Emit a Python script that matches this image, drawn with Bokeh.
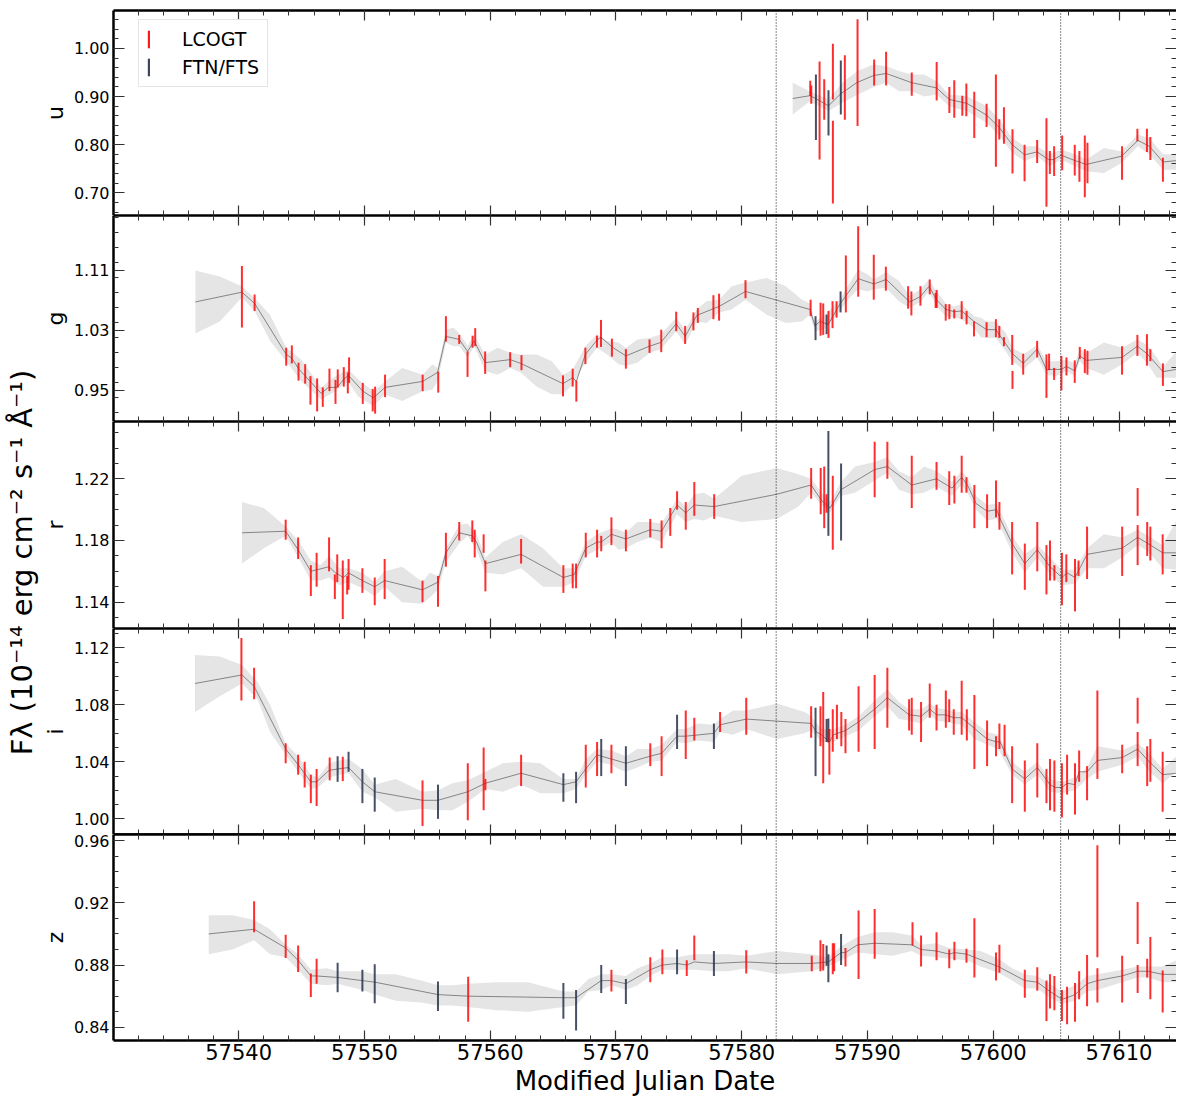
import math
import numpy as np
from bokeh.plotting import figure
from bokeh.layouts import column, row
from bokeh.models import (Range1d, LinearAxis, SingleIntervalTicker, FixedTicker,
                          PrintfTickFormatter, Span, Legend, LegendItem, Label)
from bokeh.embed import file_html
from bokeh.resources import INLINE

FONT = "DejaVu Sans"

# ---------------- u band ----------------
u_gp_mjd = [57584.05, 57585.45, 57586.90, 57587.88, 57589.15, 57590.50, 57591.50, 57593.50, 57595.50,
            57596.50, 57597.90, 57599.50, 57600.50, 57601.50, 57602.50, 57603.50, 57604.40, 57604.80,
            57605.40, 57606.50, 57607.40, 57610.20, 57611.50, 57612.40, 57613.50, 57614.57]
u_gp_flux = [0.896, 0.902, 0.881, 0.906, 0.929, 0.944, 0.948, 0.929, 0.918,
             0.894, 0.886, 0.861, 0.835, 0.800, 0.779, 0.785, 0.769, 0.769,
             0.778, 0.767, 0.759, 0.776, 0.809, 0.797, 0.764, 0.767]
u_band_mjd = [57584.05, 57585.4, 57586.9, 57588.0, 57589.2, 57590.5, 57591.5, 57592.5, 57593.5, 57594.5,
              57595.5, 57596.5, 57597.9, 57599.5, 57600.5, 57601.5, 57602.5, 57603.5, 57604.5, 57605.4,
              57606.5, 57607.4, 57608.8, 57610.2, 57611.5, 57612.4, 57613.5, 57614.57]
u_band_hi = [0.929, 0.911, 0.894, 0.929, 0.953, 0.967, 0.963, 0.953, 0.946, 0.946,
             0.932, 0.904, 0.901, 0.880, 0.852, 0.814, 0.797, 0.797, 0.780, 0.790,
             0.780, 0.769, 0.793, 0.786, 0.821, 0.814, 0.780, 0.780]
u_band_lo = [0.863, 0.890, 0.870, 0.887, 0.904, 0.920, 0.929, 0.911, 0.911, 0.900,
             0.904, 0.880, 0.870, 0.845, 0.818, 0.783, 0.766, 0.776, 0.755, 0.769,
             0.755, 0.745, 0.741, 0.762, 0.797, 0.780, 0.748, 0.748]
u_lco_mjd = [57585.45, 57585.53, 57586.19, 57586.56, 57587.25, 57587.25, 57588.20, 57589.21, 57590.53,
             57591.48, 57593.52, 57595.50, 57596.51, 57596.90, 57597.54, 57597.86, 57598.49, 57599.47,
             57600.21, 57600.48, 57600.85, 57601.53, 57602.49, 57603.49, 57604.23, 57604.50, 57604.84,
             57605.48, 57606.48, 57606.85, 57607.28, 57607.49, 57610.24, 57611.46, 57612.22, 57612.49,
             57613.49]
u_lco_flux = [0.917, 0.904, 0.871, 0.894, 0.952, 0.764, 0.919, 0.950, 0.950,
              0.958, 0.926, 0.932, 0.893, 0.895, 0.881, 0.893, 0.862, 0.861,
              0.850, 0.832, 0.840, 0.786, 0.762, 0.786, 0.763, 0.763, 0.766,
              0.783, 0.768, 0.755, 0.755, 0.762, 0.762, 0.820, 0.809, 0.792,
              0.748]
u_lco_err = [0.016, 0.019, 0.102, 0.042, 0.058, 0.086, 0.067, 0.111, 0.027,
             0.035, 0.024, 0.040, 0.027, 0.039, 0.021, 0.034, 0.048, 0.024,
             0.096, 0.021, 0.038, 0.046, 0.038, 0.024, 0.092, 0.024, 0.031,
             0.036, 0.032, 0.032, 0.064, 0.042, 0.035, 0.013, 0.024, 0.024,
             0.025]
u_ftn_mjd = [57585.90, 57586.90, 57587.88]
u_ftn_flux = [0.878, 0.866, 0.919]
u_ftn_err = [0.068, 0.047, 0.056]

# ---------------- g band ----------------
g_gp_mjd = [57536.56, 57540.26, 57541.27, 57543.78, 57544.23, 57544.76, 57546.56, 57547.14, 57547.83, 57548.36,
            57548.73, 57549.87, 57550.71, 57551.64, 57554.63, 57555.82, 57556.48, 57557.54, 57558.20, 57558.73,
            57559.60, 57561.59, 57562.43, 57565.79, 57566.56, 57566.85, 57567.57, 57568.49, 57568.81, 57569.68,
            57570.79, 57572.67, 57573.57, 57574.79, 57575.50, 57576.43, 57577.75, 57578.20, 57580.30, 57585.42,
            57585.82, 57586.22, 57586.88, 57587.80, 57589.27, 57590.51, 57591.50, 57593.35, 57594.20, 57594.90,
            57595.48, 57596.22, 57596.90, 57597.49, 57598.47, 57599.47, 57600.21, 57601.53, 57602.38, 57603.49,
            57604.23, 57605.42, 57605.82, 57606.48, 57606.88, 57607.41, 57610.24, 57611.46, 57612.22, 57613.49,
            57614.57]
g_gp_flux = [1.068, 1.081, 1.066, 0.998, 0.993, 0.979, 0.946, 0.954, 0.954, 0.965,
             0.970, 0.949, 0.940, 0.954, 0.962, 0.974, 1.022, 1.018, 1.002, 1.016,
             0.987, 0.991, 0.986, 0.959, 0.967, 0.962, 0.998, 1.017, 1.021, 1.008,
             0.996, 1.009, 1.014, 1.039, 1.022, 1.050, 1.059, 1.062, 1.082, 1.058,
             1.036, 1.042, 1.038, 1.065, 1.099, 1.092, 1.098, 1.068, 1.075, 1.089,
             1.071, 1.058, 1.055, 1.056, 1.042, 1.031, 1.031, 0.999, 0.986, 1.005,
             0.978, 0.978, 0.982, 0.976, 0.996, 0.990, 0.994, 1.009, 0.999, 0.975,
             0.978]
g_band_mjd = [57536.56, 57538.5, 57540.26, 57541.27, 57542.5, 57543.78, 57545.0, 57546.56, 57547.5, 57548.7,
              57549.5, 57550.71, 57551.64, 57553.0, 57554.63, 57555.4, 57555.82, 57556.48, 57557.1, 57557.54,
              57558.2, 57558.73, 57559.6, 57560.6, 57561.59, 57562.43, 57563.7, 57564.9, 57565.79, 57566.56,
              57567.57, 57568.49, 57569.3, 57570.2, 57570.79, 57571.7, 57572.67, 57573.57, 57574.79, 57575.5,
              57576.43, 57577.2, 57578.2, 57579.2, 57580.3, 57582.0, 57583.5, 57584.8, 57585.42, 57585.82,
              57586.5, 57587.8, 57588.6, 57589.26, 57590.0, 57590.5, 57591.46, 57592.5, 57593.36, 57594.21,
              57594.89, 57595.5, 57596.22, 57596.9, 57597.49, 57598.47, 57599.0, 57599.47, 57600.21, 57601.0,
              57601.53, 57602.38, 57603.0, 57603.49, 57604.23, 57605.0, 57605.82, 57606.48, 57606.88, 57607.41,
              57608.8, 57610.24, 57611.46, 57612.22, 57613.0, 57613.49, 57614.57]
g_band_hi = [1.110, 1.102, 1.089, 1.073, 1.051, 1.007, 0.991, 0.954, 0.967, 0.978,
             0.965, 0.949, 0.962, 0.980, 0.971, 0.985, 0.980, 1.031, 1.034, 1.026,
             1.010, 1.024, 0.998, 1.007, 1.000, 0.998, 0.998, 0.989, 0.971, 0.978,
             1.009, 1.025, 1.016, 1.014, 1.007, 1.018, 1.020, 1.025, 1.047, 1.031,
             1.058, 1.069, 1.071, 1.089, 1.094, 1.100, 1.089, 1.071, 1.066, 1.042,
             1.049, 1.071, 1.094, 1.111, 1.105, 1.098, 1.108, 1.096, 1.076, 1.085,
             1.098, 1.082, 1.066, 1.062, 1.065, 1.049, 1.047, 1.042, 1.042, 1.027,
             1.007, 0.998, 1.005, 1.011, 0.989, 0.989, 0.991, 0.986, 1.005, 1.000,
             1.014, 1.007, 1.018, 1.011, 0.994, 0.982, 1.002]
g_band_lo = [1.026, 1.042, 1.074, 1.056, 1.016, 0.989, 0.962, 0.938, 0.947, 0.962,
             0.942, 0.929, 0.945, 0.936, 0.949, 0.951, 0.962, 1.014, 1.009, 1.009,
             0.994, 1.009, 0.976, 0.971, 0.980, 0.974, 0.955, 0.945, 0.945, 0.958,
             0.987, 1.007, 0.998, 0.985, 0.983, 0.987, 1.000, 1.005, 1.029, 1.011,
             1.042, 1.040, 1.054, 1.058, 1.071, 1.051, 1.040, 1.042, 1.051, 1.029,
             1.031, 1.056, 1.074, 1.085, 1.082, 1.085, 1.087, 1.069, 1.060, 1.068,
             1.082, 1.062, 1.049, 1.047, 1.045, 1.034, 1.021, 1.020, 1.020, 1.002,
             0.989, 0.978, 0.987, 0.994, 0.971, 0.969, 0.976, 0.969, 0.989, 0.980,
             0.971, 0.985, 1.000, 0.987, 0.967, 0.967, 0.967]
g_lco_mjd = [57540.26, 57541.27, 57543.78, 57544.23, 57544.76, 57545.29, 57545.71, 57546.24, 57546.69, 57547.22,
             57547.70, 57547.88, 57548.36, 57548.68, 57548.78, 57549.87, 57550.66, 57550.85, 57551.64, 57554.63,
             57555.87, 57556.48, 57557.54, 57558.20, 57558.60, 57558.81, 57559.60, 57561.59, 57562.49, 57565.79,
             57566.56, 57566.85, 57567.57, 57568.49, 57568.81, 57569.68, 57570.79, 57572.67, 57573.60, 57574.79,
             57575.50, 57576.16, 57576.51, 57577.75, 57578.20, 57580.30, 57585.48, 57586.27, 57586.48, 57586.90,
             57587.22, 57587.54, 57588.28, 57589.26, 57590.50, 57591.46, 57593.23, 57593.49, 57594.21, 57594.95,
             57595.42, 57595.50, 57596.22, 57596.51, 57596.90, 57597.49, 57597.88, 57598.47, 57599.47, 57600.21,
             57600.48, 57600.85, 57601.51, 57601.53, 57602.38, 57603.49, 57604.23, 57604.44, 57604.84, 57605.42,
             57605.82, 57606.48, 57606.88, 57607.28, 57607.49, 57610.24, 57611.46, 57612.22, 57612.49, 57613.49]
g_lco_flux = [1.075, 1.067, 0.995, 0.998, 0.975, 0.972, 0.950, 0.944, 0.941, 0.964,
              0.948, 0.966, 0.968, 0.960, 0.977, 0.946, 0.937, 0.937, 0.956, 0.960,
              0.961, 1.032, 1.018, 0.985, 1.015, 1.021, 0.987, 0.991, 0.987, 0.956,
              0.967, 0.949, 0.996, 1.015, 1.026, 1.007, 0.992, 1.009, 1.016, 1.042,
              1.024, 1.042, 1.050, 1.061, 1.061, 1.085, 1.060, 1.045, 1.045, 1.038,
              1.051, 1.058, 1.092, 1.122, 1.101, 1.099, 1.074, 1.066, 1.076, 1.088,
              1.070, 1.072, 1.054, 1.055, 1.052, 1.057, 1.047, 1.032, 1.031, 1.033,
              1.028, 1.015, 1.004, 0.964, 0.985, 1.005, 0.969, 0.988, 0.972, 0.973,
              0.982, 0.975, 1.000, 0.989, 0.987, 0.990, 1.010, 1.004, 0.997, 0.971]
g_lco_err = [0.041, 0.011, 0.012, 0.012, 0.012, 0.013, 0.019, 0.022, 0.013, 0.015,
             0.016, 0.012, 0.013, 0.014, 0.017, 0.014, 0.015, 0.018, 0.015, 0.011,
             0.014, 0.017, 0.006, 0.017, 0.008, 0.012, 0.015, 0.010, 0.010, 0.014,
             0.012, 0.014, 0.011, 0.008, 0.018, 0.012, 0.013, 0.009, 0.015, 0.013,
             0.012, 0.012, 0.010, 0.016, 0.018, 0.012, 0.011, 0.022, 0.021, 0.018,
             0.018, 0.011, 0.038, 0.047, 0.030, 0.016, 0.015, 0.016, 0.013, 0.010,
             0.010, 0.012, 0.011, 0.010, 0.006, 0.012, 0.009, 0.010, 0.010, 0.012,
             0.008, 0.006, 0.020, 0.012, 0.014, 0.011, 0.029, 0.011, 0.008, 0.023,
             0.012, 0.015, 0.008, 0.016, 0.016, 0.019, 0.014, 0.021, 0.008, 0.015]
g_ftn_mjd = [57585.87, 57586.75, 57587.86]
g_ftn_flux = [1.033, 1.038, 1.068]
g_ftn_err = [0.016, 0.013, 0.014]

# ---------------- r band ----------------
r_gp_mjd = [57540.27, 57543.74, 57544.73, 57545.74, 57546.23, 57547.19, 57547.70, 57548.33, 57548.74, 57549.84,
            57550.82, 57551.61, 57554.62, 57555.85, 57556.48, 57557.54, 57558.58, 57558.91, 57559.62, 57562.46,
            57565.82, 57566.69, 57567.60, 57568.50, 57568.83, 57569.64, 57570.79, 57572.73, 57573.63, 57574.86,
            57575.55, 57576.23, 57577.81, 57582.79, 57585.52, 57586.34, 57587.02, 57587.90, 57590.57, 57591.58,
            57593.52, 57595.49, 57596.72, 57597.49, 57597.95, 57598.63, 57599.51, 57600.27, 57600.55, 57601.50,
            57602.51, 57603.50, 57604.51, 57605.46, 57605.87, 57606.50, 57607.46, 57610.25, 57611.48, 57612.30,
            57613.47, 57614.57]
r_gp_flux = [1.185, 1.186, 1.174, 1.160, 1.161, 1.163, 1.159, 1.156, 1.159, 1.154,
             1.150, 1.154, 1.148, 1.153, 1.172, 1.185, 1.183, 1.179, 1.165, 1.171,
             1.156, 1.158, 1.175, 1.179, 1.179, 1.184, 1.181, 1.187, 1.186, 1.203,
             1.198, 1.203, 1.202, 1.210, 1.216, 1.206, 1.201, 1.213, 1.226, 1.228,
             1.216, 1.220, 1.214, 1.221, 1.216, 1.204, 1.199, 1.200, 1.194, 1.178,
             1.165, 1.174, 1.163, 1.156, 1.159, 1.156, 1.171, 1.175, 1.182, 1.178,
             1.172, 1.172]
r_band_mjd = [57540.27, 57542.0, 57543.74, 57544.73, 57545.74, 57546.5, 57547.19, 57548.0, 57548.74, 57549.84,
              57550.82, 57551.61, 57553.0, 57554.62, 57555.2, 57555.85, 57556.48, 57557.54, 57558.2, 57558.91,
              57559.62, 57561.0, 57562.46, 57564.2, 57565.82, 57566.69, 57567.6, 57568.5, 57569.64, 57570.2,
              57570.79, 57571.7, 57572.73, 57573.63, 57574.86, 57575.55, 57576.23, 57577.0, 57577.81, 57580.0,
              57582.79, 57584.5, 57585.52, 57586.34, 57587.02, 57587.9, 57589.0, 57590.57, 57591.58, 57592.5,
              57593.52, 57594.5, 57595.49, 57596.72, 57597.49, 57597.95, 57598.63, 57599.51, 57600.27, 57600.55,
              57601.5, 57602.51, 57603.5, 57604.51, 57605.46, 57606.5, 57607.46, 57608.8, 57610.25, 57611.48,
              57612.3, 57613.47, 57614.57]
r_band_hi = [1.205, 1.201, 1.189, 1.180, 1.167, 1.164, 1.170, 1.162, 1.162, 1.159,
             1.153, 1.160, 1.163, 1.153, 1.159, 1.157, 1.175, 1.190, 1.191, 1.184,
             1.169, 1.179, 1.184, 1.175, 1.162, 1.162, 1.179, 1.184, 1.188, 1.187,
             1.185, 1.192, 1.192, 1.191, 1.207, 1.202, 1.210, 1.211, 1.207, 1.222,
             1.227, 1.223, 1.220, 1.211, 1.205, 1.218, 1.228, 1.231, 1.234, 1.225,
             1.221, 1.228, 1.225, 1.218, 1.225, 1.221, 1.209, 1.203, 1.204, 1.199,
             1.183, 1.171, 1.177, 1.169, 1.161, 1.161, 1.175, 1.184, 1.182, 1.187,
             1.183, 1.177, 1.193]
r_band_lo = [1.165, 1.175, 1.183, 1.169, 1.154, 1.154, 1.156, 1.151, 1.153, 1.149,
             1.144, 1.150, 1.140, 1.139, 1.143, 1.148, 1.166, 1.178, 1.183, 1.174,
             1.159, 1.158, 1.162, 1.150, 1.150, 1.153, 1.170, 1.174, 1.179, 1.174,
             1.175, 1.179, 1.182, 1.179, 1.197, 1.192, 1.194, 1.193, 1.196, 1.192,
             1.194, 1.202, 1.211, 1.203, 1.198, 1.209, 1.211, 1.219, 1.224, 1.213,
             1.210, 1.211, 1.215, 1.209, 1.216, 1.211, 1.200, 1.193, 1.194, 1.189,
             1.172, 1.159, 1.169, 1.158, 1.151, 1.152, 1.162, 1.162, 1.169, 1.177,
             1.173, 1.162, 1.161]
r_lco_mjd = [57543.74, 57544.73, 57545.74, 57546.20, 57547.19, 57547.65, 57547.84, 57548.28, 57548.63, 57548.74,
             57549.84, 57550.82, 57551.61, 57554.62, 57555.85, 57556.48, 57557.54, 57558.58, 57558.77, 57559.48,
             57559.62, 57562.46, 57565.82, 57566.56, 57566.83, 57567.60, 57568.50, 57568.83, 57569.64, 57570.79,
             57572.73, 57573.63, 57574.32, 57574.86, 57575.55, 57576.23, 57577.81, 57585.52, 57586.28, 57586.56,
             57586.75, 57587.24, 57590.57, 57591.58, 57593.52, 57595.49, 57596.50, 57596.91, 57597.49, 57597.87,
             57598.50, 57599.51, 57600.22, 57600.49, 57601.50, 57602.51, 57603.50, 57604.23, 57604.51, 57604.86,
             57605.46, 57605.81, 57606.50, 57606.78, 57607.46, 57610.25, 57611.48, 57611.48, 57612.24, 57612.49,
             57613.47]
r_lco_flux = [1.187, 1.175, 1.154, 1.161, 1.171, 1.150, 1.162, 1.148, 1.151, 1.158,
              1.154, 1.147, 1.155, 1.147, 1.147, 1.174, 1.186, 1.186, 1.178, 1.178,
              1.157, 1.173, 1.155, 1.157, 1.157, 1.177, 1.178, 1.178, 1.186, 1.180,
              1.188, 1.184, 1.192, 1.206, 1.196, 1.207, 1.202, 1.217, 1.212, 1.208,
              1.204, 1.198, 1.226, 1.232, 1.218, 1.222, 1.214, 1.213, 1.223, 1.216,
              1.202, 1.199, 1.207, 1.196, 1.175, 1.163, 1.176, 1.161, 1.167, 1.159,
              1.155, 1.162, 1.151, 1.162, 1.172, 1.173, 1.205, 1.177, 1.181, 1.178,
              1.171]
r_lco_err = [0.0065, 0.007, 0.010, 0.011, 0.011, 0.008, 0.009, 0.019, 0.006, 0.010,
             0.008, 0.009, 0.013, 0.007, 0.010, 0.011, 0.006, 0.007, 0.009, 0.006,
             0.010, 0.008, 0.009, 0.008, 0.008, 0.008, 0.009, 0.005, 0.009, 0.007,
             0.006, 0.009, 0.009, 0.006, 0.009, 0.011, 0.008, 0.010, 0.015, 0.020,
             0.006, 0.024, 0.018, 0.012, 0.017, 0.009, 0.011, 0.009, 0.012, 0.005,
             0.014, 0.011, 0.012, 0.009, 0.017, 0.015, 0.016, 0.016, 0.013, 0.005,
             0.017, 0.009, 0.017, 0.005, 0.017, 0.016, 0.009, 0.013, 0.011, 0.011,
             0.013]
r_ftn_mjd = [57586.89, 57587.90]
r_ftn_flux = [1.217, 1.205]
r_ftn_err = [0.034, 0.025]

# ---------------- i band ----------------
i_gp_mjd = [57536.53, 57540.27, 57541.23, 57543.74, 57544.73, 57545.74, 57546.20, 57547.19, 57547.87, 57548.74,
            57549.84, 57550.82, 57554.62, 57555.85, 57558.22, 57559.62, 57562.46, 57565.82, 57566.83, 57567.60,
            57568.50, 57568.83, 57569.64, 57570.79, 57572.73, 57573.63, 57574.86, 57575.55, 57577.79, 57578.28,
            57580.36, 57585.52, 57585.93, 57586.34, 57586.97, 57587.30, 57588.25, 57589.29, 57590.57, 57591.58,
            57593.31, 57594.26, 57594.95, 57595.49, 57596.17, 57596.86, 57597.49, 57597.90, 57599.51, 57600.27,
            57600.55, 57601.50, 57602.51, 57603.50, 57604.51, 57604.92, 57605.46, 57605.87, 57606.50, 57606.83,
            57607.46, 57608.28, 57610.25, 57611.48, 57612.30, 57613.47, 57614.57]
i_gp_flux = [1.095, 1.101, 1.093, 1.049, 1.038, 1.026, 1.026, 1.034, 1.035, 1.036,
             1.026, 1.019, 1.013, 1.013, 1.019, 1.025, 1.032, 1.024, 1.026, 1.035,
             1.045, 1.044, 1.042, 1.039, 1.044, 1.046, 1.058, 1.058, 1.060, 1.066,
             1.070, 1.067, 1.061, 1.059, 1.054, 1.059, 1.062, 1.068, 1.077, 1.085,
             1.073, 1.072, 1.077, 1.073, 1.073, 1.071, 1.071, 1.068, 1.056, 1.054,
             1.054, 1.035, 1.028, 1.036, 1.024, 1.022, 1.022, 1.025, 1.024, 1.033,
             1.033, 1.041, 1.043, 1.049, 1.041, 1.031, 1.032]
i_band_mjd = [57536.53, 57538.5, 57540.27, 57541.5, 57542.5, 57543.74, 57544.73, 57545.74, 57546.3, 57547.19,
              57548.0, 57548.74, 57549.84, 57550.82, 57552.5, 57554.62, 57555.85, 57557.0, 57558.22, 57559.62,
              57561.0, 57562.46, 57564.0, 57565.82, 57566.83, 57567.6, 57568.5, 57569.64, 57570.2, 57570.79,
              57571.7, 57572.73, 57573.63, 57574.86, 57575.55, 57576.5, 57577.79, 57578.28, 57579.3, 57580.36,
              57582.8, 57585.0, 57585.52, 57586.34, 57587.3, 57588.25, 57589.29, 57590.57, 57591.58, 57592.5,
              57593.31, 57594.26, 57594.95, 57595.49, 57596.17, 57596.86, 57597.49, 57598.5, 57599.51, 57600.4,
              57601.5, 57602.51, 57603.5, 57604.51, 57605.46, 57606.5, 57607.46, 57608.28, 57610.25, 57611.48,
              57612.3, 57613.47, 57614.57]
i_band_hi = [1.115, 1.114, 1.108, 1.096, 1.080, 1.053, 1.044, 1.031, 1.029, 1.039,
             1.041, 1.042, 1.035, 1.024, 1.028, 1.019, 1.020, 1.025, 1.027, 1.033,
             1.039, 1.040, 1.039, 1.028, 1.028, 1.042, 1.049, 1.048, 1.046, 1.044,
             1.049, 1.049, 1.052, 1.063, 1.063, 1.067, 1.066, 1.070, 1.076, 1.076,
             1.081, 1.075, 1.072, 1.063, 1.063, 1.066, 1.072, 1.083, 1.091, 1.082,
             1.077, 1.077, 1.081, 1.078, 1.077, 1.075, 1.075, 1.068, 1.061, 1.059,
             1.040, 1.033, 1.040, 1.028, 1.026, 1.029, 1.036, 1.051, 1.048, 1.053,
             1.047, 1.035, 1.044]
i_band_lo = [1.075, 1.086, 1.095, 1.084, 1.061, 1.045, 1.033, 1.021, 1.022, 1.029,
             1.031, 1.032, 1.019, 1.015, 1.005, 1.007, 1.006, 1.006, 1.012, 1.021,
             1.019, 1.024, 1.018, 1.018, 1.021, 1.031, 1.040, 1.038, 1.035, 1.033,
             1.036, 1.040, 1.041, 1.054, 1.053, 1.055, 1.054, 1.061, 1.059, 1.063,
             1.056, 1.060, 1.062, 1.054, 1.054, 1.058, 1.062, 1.072, 1.079, 1.070,
             1.069, 1.067, 1.073, 1.069, 1.068, 1.067, 1.066, 1.056, 1.052, 1.049,
             1.031, 1.024, 1.031, 1.019, 1.018, 1.020, 1.028, 1.033, 1.038, 1.044,
             1.034, 1.025, 1.033]
i_lco_mjd = [57540.22, 57541.23, 57543.74, 57544.73, 57545.25, 57545.74, 57546.20, 57547.24, 57548.28, 57554.62,
             57558.22, 57559.48, 57559.62, 57562.46, 57567.60, 57568.50, 57569.64, 57572.73, 57573.63, 57575.55,
             57576.23, 57578.28, 57580.36, 57585.52, 57586.26, 57586.48, 57586.97, 57587.24, 57587.57, 57587.92,
             57588.25, 57589.29, 57590.57, 57591.58, 57593.31, 57593.52, 57594.26, 57594.95, 57595.49, 57596.23,
             57596.50, 57596.86, 57597.49, 57597.90, 57598.50, 57599.51, 57600.22, 57600.49, 57600.90, 57601.50,
             57602.51, 57603.50, 57604.23, 57604.51, 57604.86, 57605.46, 57605.87, 57606.50, 57606.83, 57607.46,
             57608.28, 57610.25, 57611.48, 57611.48, 57612.24, 57612.49, 57613.47]
i_lco_flux = [1.105, 1.095, 1.046, 1.038, 1.031, 1.021, 1.022, 1.035, 1.035, 1.011,
              1.019, 1.028, 1.024, 1.034, 1.037, 1.042, 1.042, 1.045, 1.044, 1.059,
              1.063, 1.068, 1.072, 1.068, 1.065, 1.057, 1.047, 1.062, 1.068, 1.063,
              1.058, 1.070, 1.075, 1.085, 1.073, 1.072, 1.068, 1.083, 1.071, 1.077,
              1.076, 1.068, 1.078, 1.066, 1.061, 1.053, 1.051, 1.058, 1.055, 1.031,
              1.023, 1.034, 1.023, 1.024, 1.023, 1.020, 1.031, 1.021, 1.037, 1.025,
              1.059, 1.042, 1.076, 1.049, 1.037, 1.041, 1.026]
i_lco_err = [0.022, 0.011, 0.007, 0.007, 0.009, 0.010, 0.013, 0.008, 0.0085, 0.016,
             0.020, 0.022, 0.004, 0.011, 0.015, 0.012, 0.010, 0.008, 0.014, 0.017,
             0.008, 0.007, 0.013, 0.011, 0.014, 0.032, 0.016, 0.015, 0.012, 0.012,
             0.012, 0.023, 0.026, 0.021, 0.011, 0.013, 0.014, 0.012, 0.009, 0.013,
             0.008, 0.009, 0.019, 0.011, 0.026, 0.016, 0.007, 0.009, 0.011, 0.020,
             0.018, 0.019, 0.012, 0.018, 0.018, 0.019, 0.014, 0.018, 0.011, 0.012,
             0.031, 0.010, 0.009, 0.012, 0.014, 0.015, 0.021]
i_ftn_mjd = [57547.87, 57548.74, 57549.84, 57550.82, 57555.85, 57565.82, 57566.83, 57568.83, 57570.79, 57574.86,
             57577.79, 57585.87, 57586.75, 57586.89]
i_ftn_flux = [1.035, 1.040, 1.023, 1.017, 1.012, 1.022, 1.022, 1.043, 1.037, 1.061,
              1.058, 1.054, 1.062, 1.062]
i_ftn_err = [0.009, 0.007, 0.012, 0.012, 0.012, 0.010, 0.011, 0.013, 0.014, 0.012,
             0.009, 0.024, 0.008, 0.0085]

# ---------------- z band ----------------
z_gp_mjd = [57537.62, 57541.23, 57543.74, 57544.73, 57545.74, 57546.20, 57547.87, 57549.84, 57550.82, 57555.85,
            57558.22, 57565.82, 57566.83, 57568.83, 57569.64, 57570.79, 57572.73, 57573.69, 57574.86, 57575.63,
            57576.23, 57577.79, 57580.36, 57582.79, 57585.52, 57586.89, 57587.90, 57588.25, 57589.21, 57590.57,
            57593.52, 57594.26, 57595.49, 57596.50, 57596.91, 57597.87, 57598.50, 57600.41, 57602.51, 57603.50,
            57604.51, 57605.46, 57605.87, 57606.50, 57607.46, 57608.28, 57610.25, 57611.48, 57612.30, 57613.47,
            57614.57]
z_gp_flux = [0.900, 0.903, 0.891, 0.883, 0.873, 0.873, 0.872, 0.870, 0.869, 0.861,
             0.860, 0.859, 0.859, 0.870, 0.870, 0.868, 0.877, 0.880, 0.881, 0.880,
             0.882, 0.881, 0.882, 0.881, 0.881, 0.882, 0.888, 0.888, 0.893, 0.894,
             0.893, 0.890, 0.889, 0.887, 0.888, 0.887, 0.885, 0.879, 0.870, 0.869,
             0.863, 0.858, 0.859, 0.861, 0.868, 0.870, 0.873, 0.876, 0.876, 0.874,
             0.874]
z_band_mjd = [57537.62, 57539.5, 57541.23, 57542.5, 57543.74, 57544.73, 57545.74, 57547.0, 57547.87, 57549.84,
              57550.82, 57552.5, 57554.5, 57555.85, 57557.0, 57558.22, 57560.5, 57563.0, 57565.82, 57566.83,
              57567.8, 57568.83, 57569.64, 57570.79, 57571.72, 57572.73, 57573.69, 57574.86, 57576.23, 57577.79,
              57579.0, 57580.36, 57582.8, 57585.52, 57586.89, 57587.9, 57589.21, 57590.57, 57592.0, 57593.52,
              57594.26, 57595.49, 57596.5, 57597.87, 57599.0, 57600.41, 57601.5, 57602.51, 57603.5, 57604.51,
              57605.46, 57606.5, 57607.46, 57608.28, 57610.25, 57611.48, 57612.3, 57613.47, 57614.57]
z_band_hi = [0.912, 0.912, 0.909, 0.903, 0.893, 0.887, 0.877, 0.878, 0.876, 0.876,
             0.874, 0.874, 0.870, 0.867, 0.867, 0.868, 0.869, 0.869, 0.863, 0.863,
             0.871, 0.874, 0.874, 0.873, 0.878, 0.881, 0.885, 0.885, 0.887, 0.887,
             0.887, 0.886, 0.889, 0.887, 0.885, 0.892, 0.898, 0.901, 0.901, 0.899,
             0.893, 0.894, 0.891, 0.890, 0.889, 0.884, 0.878, 0.874, 0.873, 0.868,
             0.863, 0.867, 0.873, 0.874, 0.877, 0.879, 0.879, 0.879, 0.883]
z_band_lo = [0.887, 0.890, 0.896, 0.887, 0.885, 0.877, 0.868, 0.867, 0.868, 0.864,
             0.861, 0.857, 0.856, 0.854, 0.854, 0.853, 0.851, 0.850, 0.853, 0.854,
             0.863, 0.864, 0.867, 0.864, 0.867, 0.873, 0.877, 0.877, 0.877, 0.876,
             0.876, 0.878, 0.874, 0.876, 0.879, 0.883, 0.888, 0.887, 0.886, 0.889,
             0.886, 0.885, 0.884, 0.883, 0.879, 0.875, 0.870, 0.865, 0.865, 0.859,
             0.855, 0.857, 0.863, 0.864, 0.869, 0.872, 0.872, 0.869, 0.869]
z_lco_mjd = [57541.23, 57543.74, 57544.73, 57545.74, 57546.20, 57558.25, 57569.64, 57572.73, 57573.69, 57575.63,
             57576.23, 57580.36, 57585.57, 57586.26, 57586.48, 57587.24, 57587.35, 57588.25, 57589.29, 57590.57,
             57593.58, 57594.26, 57595.49, 57596.50, 57596.91, 57597.87, 57598.50, 57600.22, 57600.49, 57602.51,
             57603.50, 57604.23, 57604.51, 57604.86, 57605.46, 57605.87, 57606.50, 57606.83, 57607.46, 57608.28,
             57608.28, 57610.25, 57611.48, 57611.48, 57612.24, 57612.49, 57613.47]
z_lco_flux = [0.911, 0.892, 0.884, 0.867, 0.876, 0.858, 0.870, 0.877, 0.882, 0.878,
              0.891, 0.882, 0.881, 0.886, 0.885, 0.884, 0.885, 0.885, 0.893, 0.900,
              0.900, 0.889, 0.892, 0.884, 0.889, 0.886, 0.891, 0.879, 0.884, 0.868,
              0.871, 0.857, 0.863, 0.862, 0.854, 0.854, 0.856, 0.867, 0.870, 0.921,
              0.867, 0.871, 0.907, 0.871, 0.878, 0.878, 0.863]
z_lco_err = [0.010, 0.0075, 0.0085, 0.0075, 0.008, 0.0145, 0.007, 0.008, 0.008, 0.005,
             0.008, 0.0075, 0.005, 0.010, 0.0085, 0.010, 0.009, 0.006, 0.022, 0.016,
             0.0075, 0.010, 0.009, 0.006, 0.006, 0.0045, 0.019, 0.009, 0.009, 0.009,
             0.0075, 0.013, 0.011, 0.011, 0.010, 0.012, 0.0125, 0.009, 0.0165, 0.036,
             0.011, 0.015, 0.0135, 0.009, 0.006, 0.020, 0.0135]
z_ftn_mjd = [57547.87, 57549.84, 57550.82, 57555.85, 57565.82, 57566.83, 57568.83, 57570.79, 57574.86, 57577.79,
             57586.75, 57586.89, 57587.90]
z_ftn_flux = [0.872, 0.870, 0.868, 0.860, 0.857, 0.851, 0.871, 0.863, 0.882, 0.881,
              0.886, 0.878, 0.890]
z_ftn_err = [0.0095, 0.007, 0.0125, 0.0095, 0.0115, 0.013, 0.009, 0.008, 0.008, 0.008,
             0.0065, 0.009, 0.010]

# epochs marked by dotted vertical lines
epoch_mjd = [57582.74, 57605.36]

# ---------------- layout constants ----------------
X_START, X_END = 57530.05, 57614.57
FRAME_W = 1063
LEFT = 68
LCO_COLOR = "#ff0000"
FTN_COLOR = "#26324a"
BAND_COLOR = "#e5e5e5"
GP_COLOR = "#7a7a7a"

x_range = Range1d(X_START, X_END)
x_ticker = SingleIntervalTicker(interval=10, num_minor_ticks=5)


def style_ticks(ax, major_len):
    ax.major_tick_in = major_len
    ax.major_tick_out = 0
    ax.minor_tick_in = 5
    ax.minor_tick_out = 0
    ax.major_tick_line_color = "#333333"
    ax.minor_tick_line_color = "#333333"
    ax.major_tick_line_width = 1.2
    ax.minor_tick_line_width = 1


def hide_labels(ax):
    ax.major_label_text_font_size = "0px"
    ax.major_label_text_alpha = 0
    ax.major_label_standoff = 0


def panel(label, y0, y1, majors, minor_step, gp_x, gp_y, bx, blo, bhi,
          lx, ly, le, fx, fy, fe, frame_h, top_border, last=False):
    p = figure(frame_width=FRAME_W, frame_height=frame_h, x_range=x_range,
               y_range=Range1d(y0, y1), x_axis_type=None, y_axis_type=None,
               output_backend="svg", toolbar_location=None, min_border=0,
               min_border_left=LEFT, min_border_top=top_border,
               min_border_right=0, min_border_bottom=0)
    p.outline_line_color = None
    p.background_fill_color = "white"
    p.border_fill_color = None

    start = math.floor(y0 / minor_step) * minor_step
    minors = [round(v, 4) for v in np.arange(start, y1 + minor_step, minor_step)]
    yt = FixedTicker(ticks=majors, minor_ticks=minors)

    left = LinearAxis(ticker=yt, formatter=PrintfTickFormatter(format="%.2f"), axis_label=label)
    style_ticks(left, 11)
    left.axis_line_color = "black"
    left.axis_line_width = 2.5
    left.major_label_text_font = FONT
    left.major_label_text_font_size = "16px"
    left.major_label_text_color = "black"
    left.major_label_standoff = 4
    left.axis_label_text_font = FONT
    left.axis_label_text_font_size = "22px"
    left.axis_label_text_font_style = "normal"
    left.axis_label_text_color = "black"
    left.axis_label_standoff = 3
    p.add_layout(left, "left")

    right = LinearAxis(ticker=yt)
    style_ticks(right, 11)
    right.axis_line_color = None
    hide_labels(right)
    p.add_layout(right, "right")

    above = LinearAxis(ticker=x_ticker)
    style_ticks(above, 10)
    above.axis_line_color = "black"
    above.axis_line_width = 2.5
    hide_labels(above)
    p.add_layout(above, "above")

    below = LinearAxis(ticker=x_ticker, formatter=PrintfTickFormatter(format="%.0f"))
    style_ticks(below, 10)
    below.axis_line_color = "black"
    below.axis_line_width = 2.5
    if last:
        below.major_label_text_font = FONT
        below.major_label_text_font_size = "21px"
        below.major_label_text_color = "black"
        below.major_label_standoff = 3
        below.axis_label = "Modified Julian Date"
        below.axis_label_text_font = FONT
        below.axis_label_text_font_size = "26px"
        below.axis_label_text_font_style = "normal"
        below.axis_label_text_color = "black"
        below.axis_label_standoff = 3
    else:
        hide_labels(below)
    p.add_layout(below, "below")

    p.varea(x=bx, y1=blo, y2=bhi, fill_color=BAND_COLOR, fill_alpha=1.0)
    p.line(gp_x, gp_y, line_color=GP_COLOR, line_width=1, line_alpha=0.9)

    fx_a, fy_a, fe_a = np.array(fx), np.array(fy), np.array(fe)
    p.segment(x0=fx_a, y0=fy_a - fe_a, x1=fx_a, y1=fy_a + fe_a,
              line_color=FTN_COLOR, line_width=2, line_alpha=0.85)
    lx_a, ly_a, le_a = np.array(lx), np.array(ly), np.array(le)
    p.segment(x0=lx_a, y0=ly_a - le_a, x1=lx_a, y1=ly_a + le_a,
              line_color=LCO_COLOR, line_width=2, line_alpha=0.82)

    for t in epoch_mjd:
        p.add_layout(Span(location=t, dimension="height", line_color="#111111",
                          line_width=1, line_dash="1 2"))
    return p


pu = panel("u", 0.6528, 1.079, [0.70, 0.80, 0.90, 1.00], 0.02,
           u_gp_mjd, u_gp_flux, u_band_mjd, u_band_lo, u_band_hi,
           u_lco_mjd, u_lco_flux, u_lco_err, u_ftn_mjd, u_ftn_flux, u_ftn_err, 205, 10)
pg = panel("g", 0.9085, 1.1833, [0.95, 1.03, 1.11], 0.02,
           g_gp_mjd, g_gp_flux, g_band_mjd, g_band_lo, g_band_hi,
           g_lco_mjd, g_lco_flux, g_lco_err, g_ftn_mjd, g_ftn_flux, g_ftn_err, 206, 0)
pr = panel("r", 1.1229, 1.2572, [1.14, 1.18, 1.22], 0.01,
           r_gp_mjd, r_gp_flux, r_band_mjd, r_band_lo, r_band_hi,
           r_lco_mjd, r_lco_flux, r_lco_err, r_ftn_mjd, r_ftn_flux, r_ftn_err, 207, 0)
pi_ = panel("i", 0.989, 1.1336, [1.00, 1.04, 1.08, 1.12], 0.01,
            i_gp_mjd, i_gp_flux, i_band_mjd, i_band_lo, i_band_hi,
            i_lco_mjd, i_lco_flux, i_lco_err, i_ftn_mjd, i_ftn_flux, i_ftn_err, 206, 0)
pz = panel("z", 0.8315, 0.9639, [0.84, 0.88, 0.92, 0.96], 0.01,
           z_gp_mjd, z_gp_flux, z_band_mjd, z_band_lo, z_band_hi,
           z_lco_mjd, z_lco_flux, z_lco_err, z_ftn_mjd, z_ftn_flux, z_ftn_err, 206, 9, last=True)
# let the top tick label of the z panel sit in an overlapping strip instead of being clipped
pz.margin = (-9, 0, 0, 0)

# legend (u panel)
leg_lco = pu.vbar(x=[57500.0], bottom=[0.70], top=[0.75], width=0.1,
                  fill_color=LCO_COLOR, fill_alpha=0.9, line_color=None)
leg_ftn = pu.vbar(x=[57500.0], bottom=[0.70], top=[0.75], width=0.1,
                  fill_color=FTN_COLOR, fill_alpha=0.9, line_color=None)
legend = Legend(items=[LegendItem(label="LCOGT", renderers=[leg_lco]),
                       LegendItem(label="FTN/FTS", renderers=[leg_ftn])],
                location=(25, 128), margin=0, padding=8, spacing=6,
                glyph_width=3, glyph_height=22, label_standoff=32,
                label_text_font=FONT, label_text_font_size="19px",
                label_text_color="black",
                border_line_color="#cccccc", border_line_width=1,
                background_fill_color="white", background_fill_alpha=0.85)
pu.add_layout(legend)

# global y-axis label in a narrow strip on the left
lab = figure(width=39, height=1000, x_range=Range1d(0, 1), y_range=Range1d(0, 1),
             x_axis_type=None, y_axis_type=None, output_backend="svg",
             toolbar_location=None, min_border=0)
lab.outline_line_color = None
lab.add_layout(Label(x=0.56, y=1 - 562 / 1000, text="Fλ (10⁻¹⁴ erg cm⁻² s⁻¹ Å⁻¹)",
                     angle=math.pi / 2, text_align="center", text_baseline="middle",
                     text_font=FONT, text_font_size="29px", text_color="black"))

layout = row(lab, column(pu, pg, pr, pi_, pz))

open("out.html", "w").write(file_html(layout, INLINE))
